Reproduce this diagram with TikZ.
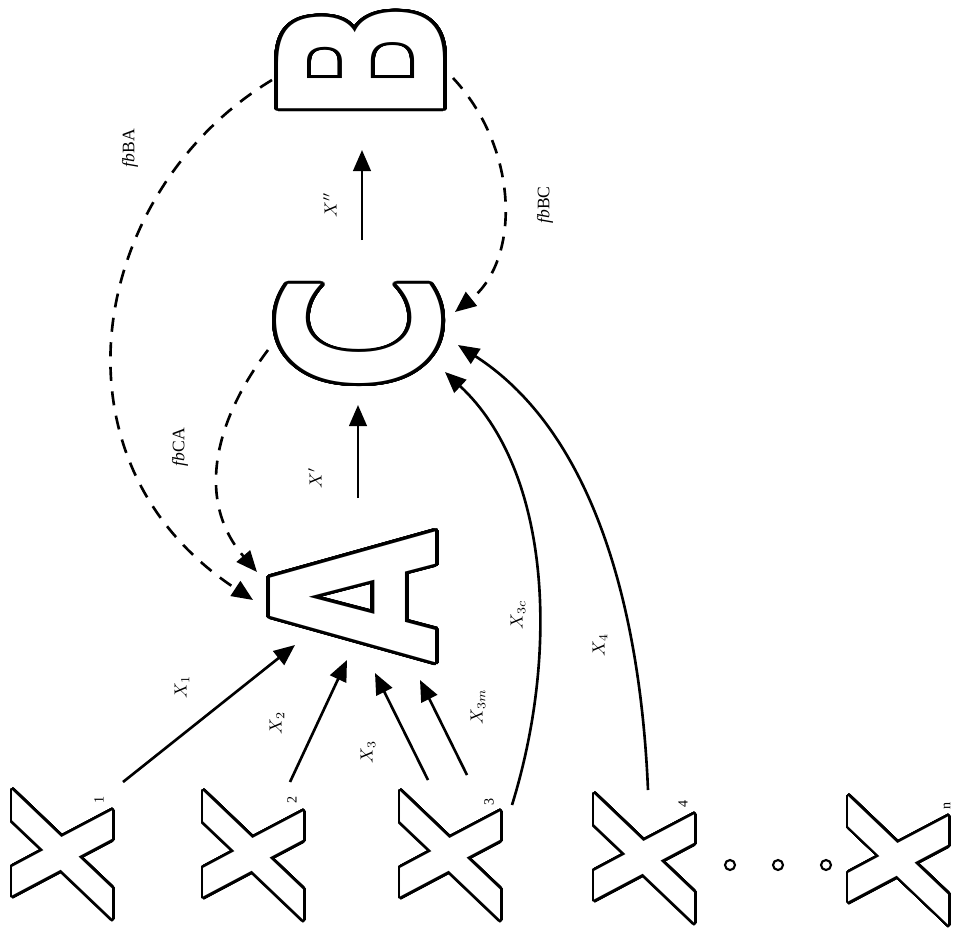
\documentclass[tikz,border=0pt]{standalone}
\usepackage{fontspec}
\setmainfont{Liberation Serif}
\newfontfamily\letterfont{DejaVu Sans}
\usepackage{graphicx}
\usepackage{contour}
\contourlength{2.2pt}
\contournumber{64}
\usetikzlibrary{arrows.meta, calc}

\newcommand{\hollow}[3]{\resizebox{#1}{#2}{\fontsize{128}{128}\selectfont\letterfont\bfseries\contour{black}{\textcolor{white}{#3}}}}

\begin{document}
\begin{tikzpicture}[
    x=0.02cm, y=-0.02cm,
    font=\normalsize,
    letter/.style={rotate=90, inner sep=0pt},
    lbl/.style={rotate=90, inner sep=1pt},
    sub/.style={rotate=90, inner sep=0pt, font=\footnotesize},
    dot/.style={circle, draw, line width=1.2pt, minimum size=0.2cm, inner sep=0pt},
    arrow/.style={-{Triangle[length=12pt, width=10pt]}, line width=1.5pt},
    fbarrow/.style={arrow, dash pattern=on 8pt off 6pt}
]
    \path[use as bounding box, clip] (0,0) rectangle (960,937);

    \node[letter] (B) at (363,62) {\hollow{2.45cm}{3.3cm}{B}};
    \node[letter] (C) at (361,333) {\hollow{2.35cm}{3.24cm}{C}};
    \node[letter] (A) at (355,597) {\hollow{2.65cm}{3.3cm}{A}};

    \node[letter] (X1) at (64,854) {\hollow{2.3cm}{2cm}{\itshape X}};
    \node[letter] (X2) at (255,855) {\hollow{2.3cm}{2cm}{\itshape X}};
    \node[letter] (X3) at (452,855) {\hollow{2.3cm}{2cm}{\itshape X}};
    \node[letter] (X4) at (646,858) {\hollow{2.3cm}{2cm}{\itshape X}};
    \node[letter] (X5) at (900,860) {\hollow{2.3cm}{2cm}{\itshape X}};

    \node[sub] (s1) at (99,800) {1};
    \node[sub] (s2) at (292,800) {2};
    \node[sub] (s3) at (489,802) {3};
    \node[sub] (s4) at (683,804) {4};
    \node[sub] (s5) at (947,806) {n};

    \node[dot] (d1) at (730,865) {};
    \node[dot] (d2) at (778,865) {};
    \node[dot] (d3) at (826,865) {};

    \draw[arrow] ($(A)+(3,-99)$) -- ($(C)+(-3,72)$);
    \draw[arrow] ($(C)+(1,-93)$) -- ($(B)+(-1,88)$);

    \draw[arrow] ($(X1)+(59,-72)$) -- ($(A)+(-60,48)$);
    \draw[arrow] ($(X2)+(35,-73)$) -- ($(A)+(-8,63)$);
    \draw[arrow] ($(X3)+(-24,-75)$) -- ($(A)+(20,76)$);
    \draw[arrow] ($(X3)+(15,-80)$) -- ($(A)+(65,83)$);
    \draw[arrow] ($(X3)+(60,-50)$) .. controls (560,650) and (550,470) .. ($(C)+(84,39)$);
    \draw[arrow] ($(X4)+(2,-68)$) .. controls (640,600) and (590,430) .. ($(C)+(97,12)$);

    \draw[fbarrow] ($(B)+(90,16)$) .. controls (520,150) and (520,260) .. ($(C)+(94,-21)$);
    \draw[fbarrow] ($(B)+(-91,18)$) .. controls (90,190) and (40,460) .. ($(A)+(-102,3)$);
    \draw[fbarrow] ($(C)+(-93,17)$) .. controls (215,420) and (195,500) .. ($(A)+(-98,-25)$);

    \node[lbl] (lXb) at (330,205) {$X''$};
    \node[lbl] (lXa) at (315,478) {$X'$};
    \node[lbl] (lBA) at (130,148) {\textit{fb}BA};
    \node[lbl] (lBC) at (545,205) {\textit{fb}BC};
    \node[lbl] (lCA) at (180,447) {\textit{fb}CA};
    \node[lbl] (lX1) at (182,687) {$X_1$};
    \node[lbl] (lX2) at (277,723) {$X_2$};
    \node[lbl] (lX3) at (368,752) {$X_3$};
    \node[lbl] (lX3m) at (478,707) {$X_{3m}$};
    \node[lbl] (lX3c) at (518,615) {$X_{3c}$};
    \node[lbl] (lX4) at (600,645) {$X_4$};
\end{tikzpicture}
\end{document}
